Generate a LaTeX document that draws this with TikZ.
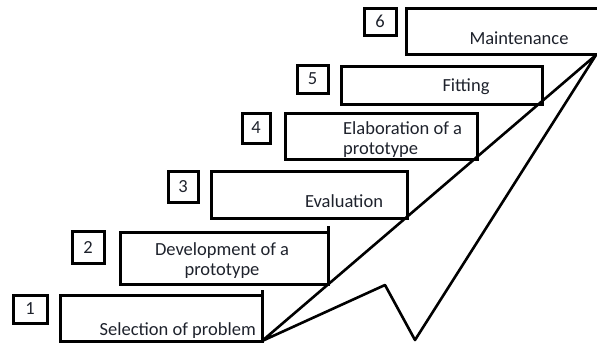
\documentclass[tikz,border=0pt]{standalone}
\usepackage{fontspec}
\setmainfont{Carlito}
\definecolor{ink}{RGB}{30,34,44}
\begin{document}
\begin{tikzpicture}[x=1pt, y=-1pt,
  stepbox/.style={draw, rectangle, line width=3pt, outer sep=0pt, inner sep=0pt, anchor=north west},
  numbox/.style={draw, rectangle, line width=3pt, outer sep=0pt, inner sep=0pt, anchor=north west,
    font=\fontsize{18.5}{20}\selectfont, text=ink},
  steptext/.style={font=\fontsize{18.5}{20}\selectfont, text=ink, inner sep=0pt}]
\useasboundingbox (0,0) rectangle (597,343);
% steps
\node[stepbox, minimum width=202pt, minimum height=46pt] (s1) at (60,295) {};
\node[stepbox, minimum width=208pt, minimum height=52pt] (s2) at (120,232) {};
\node[stepbox, minimum width=196pt, minimum height=47pt] (s3) at (211,171) {};
\node[stepbox, minimum width=192pt, minimum height=46pt] (s4) at (285,113) {};
\node[stepbox, minimum width=201pt, minimum height=38pt] (s5) at (341,66) {};
\node[stepbox, minimum width=194pt, minimum height=46pt] (s6) at (406,8) {};
% numbers
\node[numbox, minimum width=34pt, minimum height=28pt] (n1) at (13,295) {1};
\node[numbox, minimum width=32pt, minimum height=32pt] (n2) at (72,231) {2};
\node[numbox, minimum width=30pt, minimum height=31pt] (n3) at (168,171) {3};
\node[numbox, minimum width=28pt, minimum height=30pt] (n4) at (242,113) {4};
\node[numbox, minimum width=31pt, minimum height=28pt] (n5) at (297,65) {5};
\node[numbox, minimum width=32pt, minimum height=27pt] (n6) at (364,8) {6};
% labels
\node[steptext, anchor=base east] (t1) at (256,335) {Selection of problem};
\node[steptext, anchor=north, align=center] (t2) at (222,242) {Development of a\\prototype};
\node[steptext, anchor=base] (t3) at (344,207) {Evaluation};
\node[steptext, anchor=north west, align=left] (t4) at (343,121) {Elaboration of a\\prototype};
\node[steptext, anchor=base] (t5) at (466,91) {Fitting};
\node[steptext, anchor=base] (t6) at (519,44) {Maintenance};
% arrow
\coordinate (tip) at (596,55);
\coordinate (notchlow) at (415,340);
\coordinate (notchin) at (385,285);
\draw[line width=2.6pt, line join=round] (s1.south east) -- (tip) -- (notchlow) -- (notchin) -- cycle;
\draw[line width=3pt] (s1.north east) -- ++(0,-5);
\draw[line width=3pt] (s2.north east) -- ++(0,-6);
\end{tikzpicture}
\end{document}
